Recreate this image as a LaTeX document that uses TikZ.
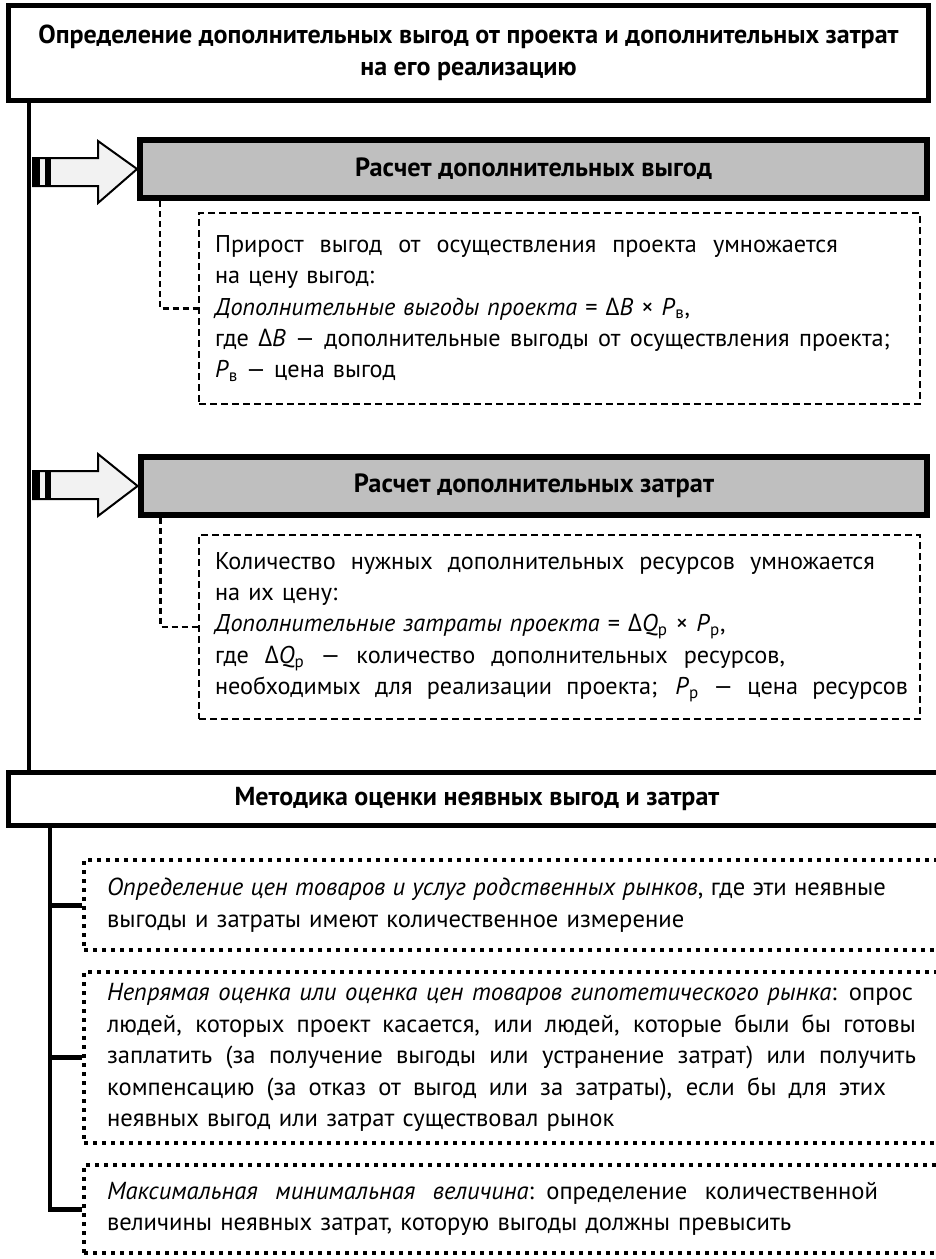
\documentclass[tikz,border=0pt]{standalone}
\usepackage{fontspec}
\setmainfont{PT Sans}
\newfontfamily\deltafont{Open Sans}
\usepackage{xcolor}

\newcommand{\jline}[2]{\makebox[#1][s]{\spaceskip=\fontdimen2\font plus 1fil minus 0.6\fontdimen2\font\relax #2}}
\newcommand{\dlt}{{\deltafont Δ}}

\tikzset{
    headbox/.style={draw, line width=0.1cm, fill=white, align=center,
        font=\bfseries\fontsize{14.8}{17.9}\selectfont, inner sep=0pt},
    calcbox/.style={draw, line width=0.12cm, fill=black!25, align=center,
        font=\bfseries\fontsize{15}{17.9}\selectfont, inner sep=0pt,
        minimum width=15.74cm, minimum height=1.16cm},
    notebox/.style={draw, line width=0.04cm, dash pattern=on 0.14cm off 0.08cm,
        align=left, font=\fontsize{13.8}{17.9}\selectfont,
        text width=13.78cm, inner xsep=0.32cm, inner ysep=0pt},
    dotbox/.style={draw, line width=0.08cm, dash pattern=on 0.08cm off 0.1cm,
        align=left, font=\fontsize{14}{17.9}\selectfont,
        text width=16.8cm, inner xsep=0.46cm, inner ysep=0pt},
    elbowline/.style={line width=0.05cm, dash pattern=on 0.12cm off 0.08cm},
    spine/.style={line width=0.07cm},
    thickspine/.style={line width=0.1cm}
}

\begin{document}
\begin{tikzpicture}[x=0.02cm, y=-0.02cm]
    \useasboundingbox (0,0) rectangle (936,1259);
    \clip (0,0) rectangle (936,1259);

    % Top heading
    \node[headbox, minimum width=18.4cm, minimum height=1.9cm] (title) at (468.5,53)
        {Определение дополнительных выгод от проекта и дополнительных затрат\\ на его реализацию};

    % Heading of the second part
    \node[headbox, minimum width=18.74cm, minimum height=1.06cm] (method) at (477,799)
        {Методика оценки неявных выгод и затрат};

    % Spine from the top heading down to the second heading
    \coordinate (spine1) at (29,103);
    \draw[spine] (spine1) -- (spine1 |- method.north);

    % Two calculation steps
    \node[calcbox] (calc1) at (533.5,169) {Расчет дополнительных выгод};
    \node[calcbox] (calc2) at (534,486) {Расчет дополнительных затрат};

    % Notes under the steps
    \node[notebox, minimum height=3.82cm] (note1) at (559.5,308.5)
        {\jline{12.46cm}{Прирост выгод от осуществления проекта умножается}\\
         на цену выгод:\\
         \textit{Дополнительные выгоды проекта} = \dlt\textit{B} × \textit{P}\textsubscript{в},\\
         \jline{13.5cm}{где \dlt\textit{B} — дополнительные выгоды от осуществления проекта;}\\
         \textit{P}\textsubscript{в} — цена выгод};
    \node[notebox, minimum height=3.68cm] (note2) at (559.5,627)
        {\jline{13.2cm}{Количество нужных дополнительных ресурсов умножается}\\
         на их цену:\\
         \textit{Дополнительные затраты проекта} = \dlt\textit{Q}\textsubscript{р} × \textit{P}\textsubscript{р},\\
         \jline{11.4cm}{где \dlt\textit{Q}\textsubscript{р} — количество дополнительных ресурсов,}\\
         \jline{13.86cm}{необходимых для реализации проекта; \textit{P}\textsubscript{р} — цена ресурсов}};

    \foreach \yc/\nm/\nt in {172/calc1/note1, 485/calc2/note2} {
        % Block arrow from the spine to the step
        \filldraw[fill=black!5, line width=0.04cm] (33,\yc-14) -- (98,\yc-14) -- (98,\yc-31)
            -- (\nm.west) -- (98,\yc+31) -- (98,\yc+14) -- (33,\yc+14) -- cycle;
        % Stripes on the tail
        \fill (33,\yc-14) rectangle (40,\yc+14);
        \fill (45,\yc-14) rectangle (51,\yc+14);
        % Dashed elbow to the note
        \draw[elbowline] (\nm.south west) ++(23,0) |- (\nt.west);
    }

    % Methods
    \node[dotbox, minimum width=17.72cm, minimum height=1.8cm] (optA) at (527,905)
        {\jline{15.58cm}{\textit{Определение цен товаров и услуг родственных рынков}, где эти неявные}\\
         выгоды и затраты имеют количественное измерение};
    \node[dotbox, minimum width=17.72cm, minimum height=3.42cm] (optB) at (527,1057.5)
        {\jline{16.12cm}{\textit{Непрямая оценка или оценка цен товаров гипотетического рынка}: опрос}\\
         \jline{16.18cm}{людей, которых проект касается, или людей, которые были бы готовы}\\
         \jline{16.18cm}{заплатить (за получение выгоды или устранение затрат) или получить}\\
         \jline{15.58cm}{компенсацию (за отказ от выгод или за затраты), если бы для этих}\\
         неявных выгод или затрат существовал рынок};
    \node[dotbox, minimum width=17.72cm, minimum height=1.76cm] (optC) at (527,1209)
        {\jline{15.42cm}{\textit{Максимальная минимальная величина}: определение количественной}\\
         величины неявных затрат, которую выгоды должны превысить};

    % Spine from the second heading to the methods
    \coordinate (spine2) at (50,828);
    \draw[thickspine] (spine2) |- (optC.west);
    \foreach \nm in {optA, optB} {
        \draw[thickspine] (\nm.west -| spine2) -- (\nm.west);
    }
\end{tikzpicture}
\end{document}
